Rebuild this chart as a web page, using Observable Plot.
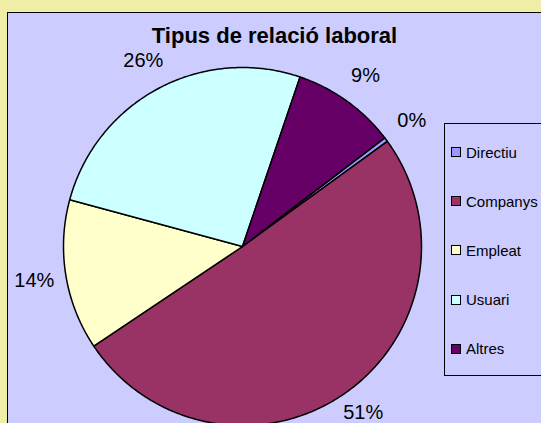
<!DOCTYPE html>
<html><head><meta charset="utf-8">
<script src="https://cdn.jsdelivr.net/npm/d3@7"></script>
<script src="https://cdn.jsdelivr.net/npm/@observablehq/plot@0.6"></script>
<style>
body{margin:0;background:#EEEEA6;}
#wrap{position:relative;width:541px;height:423px;overflow:hidden;background:#EEEEA6;font-family:"Liberation Sans",Arial,sans-serif;}
#legend{position:absolute;left:444px;top:123px;width:130px;height:253px;box-sizing:border-box;border:1px solid #000;background:#CCCCFF;}
.item{position:absolute;left:6px;height:20px;display:flex;align-items:center;font-size:15px;color:#000;white-space:nowrap;}
.sw{width:10px;height:10px;box-sizing:border-box;border:1px solid #000;margin-right:5px;}
</style>
</head><body>
<div id="wrap"></div>
<script>
const title = "Tipus de relació laboral";
const categories = ["Directiu", "Companys", "Empleat", "Usuari", "Altres"];
const values = [0.4, 50.6, 13.6, 26.0, 9.4];
const colors = ["#9999FF", "#993366", "#FFFFCC", "#CCFFFF", "#660066"];
const firstSliceAngle = 52.6; // degrees, clockwise from 12 o'clock

const W = 545, H = 427, cx = 242, cy = 246, r = 179;
const mL = 7, mT = 12;

const arcs = d3.pie().sort(null)
  .startAngle(firstSliceAngle * Math.PI / 180)
  .endAngle(firstSliceAngle * Math.PI / 180 + 2 * Math.PI)(values);

const total = d3.sum(values);
const slicePts = [];
arcs.forEach((a, i) => {
  const cat = categories[i];
  slicePts.push({x: 0, y: 0, cat});
  const n = Math.max(2, Math.ceil((a.endAngle - a.startAngle) / (Math.PI / 360)));
  for (let k = 0; k <= n; k++) {
    const t = a.startAngle + (a.endAngle - a.startAngle) * k / n;
    slicePts.push({x: Math.sin(t), y: Math.cos(t), cat});
  }
});

const R = 211 / r;
const yMin = (cy - 412) / r;
const labelRows = arcs.map((a, i) => {
  const m = (a.startAngle + a.endAngle) / 2;
  return {x: R * Math.sin(m), y: Math.max(yMin, R * Math.cos(m)),
          text: Math.round(values[i] / total * 100) + "%"};
});

const plot = Plot.plot({
  width: W, height: H,
  marginLeft: mL, marginTop: mT, marginRight: 0, marginBottom: 0,
  x: {domain: [(mL - cx) / r, (W - cx) / r], axis: null},
  y: {domain: [(cy - H) / r, (cy - mT) / r], axis: null},
  color: {domain: categories, range: colors},
  style: {background: "#EEEEA6", maxWidth: "none", fontFamily: "'Liberation Sans', Arial, sans-serif", overflow: "visible"},
  marks: [
    Plot.frame({fill: "#CCCCFF", stroke: "#000", strokeWidth: 1}),
    Plot.line(slicePts, {x: "x", y: "y", z: "cat", fill: "cat", stroke: "#000", strokeWidth: 1.5, strokeLinejoin: "round", curve: "linear-closed"}),
    Plot.text(labelRows, {x: "x", y: "y", text: "text", fontSize: 20, fill: "#000", textAnchor: "middle", lineAnchor: "middle"}),
    Plot.text([title], {text: d => d, frameAnchor: "top", dy: 23, dx: -2, fontSize: 22, fontWeight: "bold", fill: "#000", lineAnchor: "middle"})
  ]
});

const wrap = document.getElementById("wrap");
wrap.appendChild(plot);

const legend = document.createElement("div");
legend.id = "legend";
categories.forEach((c, i) => {
  const it = document.createElement("div");
  it.className = "item";
  it.style.top = (28 + i * 49.2 - 10) + "px";
  const sw = document.createElement("div");
  sw.className = "sw";
  sw.style.background = colors[i];
  const tx = document.createElement("span");
  tx.textContent = c;
  it.appendChild(sw); it.appendChild(tx);
  legend.appendChild(it);
});
wrap.appendChild(legend);
</script>
</body></html>
